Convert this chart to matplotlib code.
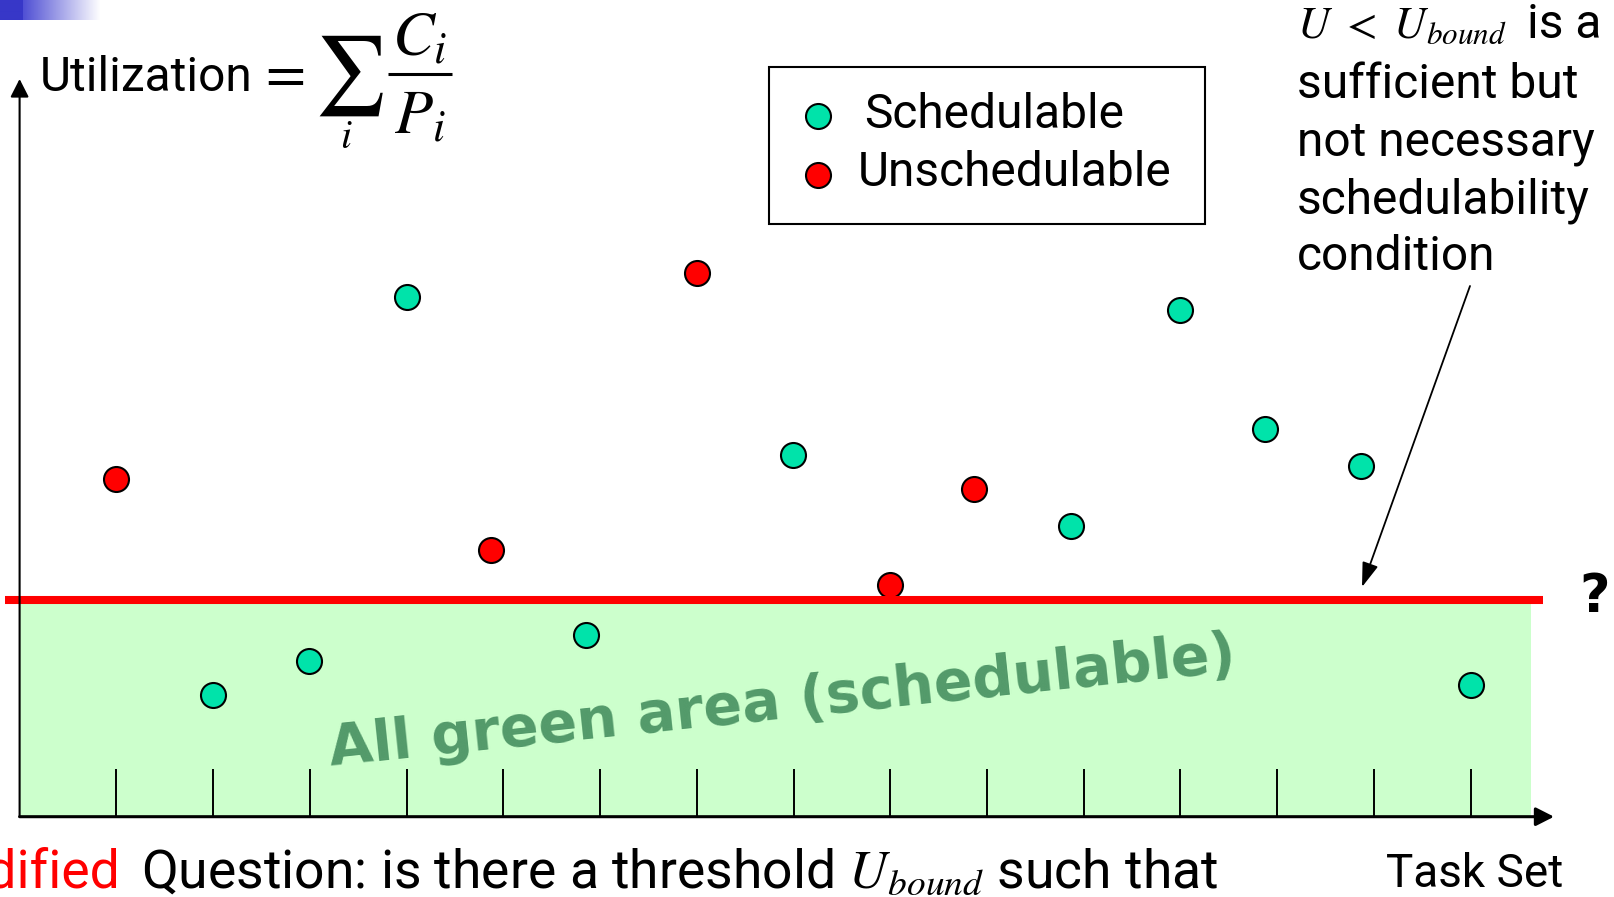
import numpy as np
import matplotlib
matplotlib.use("Agg")
import matplotlib.pyplot as plt
from matplotlib.patches import Rectangle

plt.rcParams['mathtext.fontset'] = 'stix'

# Task sets: x = task-set index, y = total utilization (in units of U_bound)
sched_x = [2.0, 2.99, 4.0, 5.86, 7.99, 10.87, 12.0, 12.87, 13.87, 15.0]
sched_u = [0.56, 0.72, 2.40, 0.84, 1.67, 1.34, 2.34, 1.79, 1.62, 0.61]
unsched_x = [1.0, 4.87, 7.0, 9.0, 9.87]
unsched_u = [1.56, 1.23, 2.51, 1.07, 1.51]
task_set_ticks = list(range(1, 16))
u_bound = 1.0
legend_labels = ["Schedulable", "Unschedulable"]

SANS = ['Roboto', 'DejaVu Sans']
FS = 34.5
GREEN_PT = '#00E3AA'
RED_PT = '#FF0000'
AREA = '#CCFFCC'
WORDART = '#539A6A'

W, H = 1614, 897
fig = plt.figure(figsize=(W / 100, H / 100), dpi=100)

# main plotting axes (origin at the axis corner)
x_org, y_org = 19.6, 816.7
x_tip, y_tip = 1554.0, 79.0
ax = fig.add_axes([x_org / W, 1 - y_org / H, (x_tip - x_org) / W, (y_org - y_tip) / H])
ax.set_xlim(0, 15.861)
ax.set_ylim(0, 3.404)
ax.set_facecolor('none')
for s in ax.spines.values():
    s.set_visible(False)
ax.set_xticks(task_set_ticks)
ax.set_xticklabels([])
ax.tick_params(axis='x', direction='in', length=34.5, width=1.4, color='black')
ax.set_yticks([])

# schedulable region below the bound
ax.fill_between([0, 15.62], 0, u_bound, color=AREA, lw=0, zorder=0.5)

ax.scatter(sched_x, sched_u, s=324, c=GREEN_PT, edgecolors='black',
           linewidths=1.5, zorder=3, clip_on=False, label=legend_labels[0])
ax.scatter(unsched_x, unsched_u, s=324, c=RED_PT, edgecolors='black',
           linewidths=1.5, zorder=3, clip_on=False, label=legend_labels[1])

# the utilization bound
ax.plot([-0.15, 15.744], [u_bound, u_bound], color='red', lw=5.8,
        solid_capstyle='butt', clip_on=False, zorder=4)

# axis arrows
ax.annotate('', xy=(15.861, 0), xytext=(0, 0),
            arrowprops=dict(arrowstyle='-|>,head_length=0.55,head_width=0.28',
                            mutation_scale=20, color='black', lw=2.2,
                            shrinkA=0, shrinkB=0),
            annotation_clip=False, zorder=5)
ax.annotate('', xy=(0, 3.404), xytext=(0, 0),
            arrowprops=dict(arrowstyle='-|>,head_length=0.55,head_width=0.28',
                            mutation_scale=20, color='black', lw=1.5,
                            shrinkA=0, shrinkB=0),
            annotation_clip=False, zorder=5)

ax.text(7.9, 0.455, "All green area (schedulable)", fontsize=41,
        fontweight='bold', family='DejaVu Sans', color=WORDART,
        rotation=6, rotation_mode='anchor', ha='center', va='baseline', zorder=2)

# overlay in pixel coordinates for the slide text
ov = fig.add_axes([0, 0, 1, 1])
ov.set_facecolor('none')
ov.axis('off')
ov.set_zorder(5)

# title-bar gradient in the corner
grad = np.ones((1, 100, 3))
base = np.array([55, 55, 200]) / 255
start = np.array([80, 80, 212]) / 255
for i in range(100):
    if i < 23:
        grad[0, i] = base
    else:
        t = (i - 23) / 77
        grad[0, i] = start * (1 - t) + np.ones(3) * t
ov.imshow(grad, extent=[0, 100, 20, 0], aspect='auto', interpolation='bilinear')
ov.set_xlim(0, W)
ov.set_ylim(H, 0)

# Utilization = sum_i C_i / P_i
ov.text(40, 91, "Utilization", fontsize=FS, family=SANS, va='baseline')
ov.text(257, 90, r"$=$", fontsize=42, va='baseline')
ov.text(349, 76, r"$\sum$", fontsize=57, ha='center', va='center')
ov.text(346, 148, r"$i$", fontsize=29, ha='center', va='baseline')
ov.text(392, 55, r"$C_i$", fontsize=45, va='baseline')
ov.plot([388, 452], [74.5, 74.5], color='black', lw=2.2, solid_capstyle='butt')
ov.text(394, 133, r"$P_i$", fontsize=45, va='baseline')

# legend box
ov.add_patch(Rectangle((768.5, 67.5), 436, 156.5, facecolor='white',
                       edgecolor='black', lw=1.5, zorder=1))
ov.scatter([817.5], [116], s=324, c=GREEN_PT, edgecolors='black', linewidths=1.5, zorder=2)
ov.scatter([817.5], [175.5], s=324, c=RED_PT, edgecolors='black', linewidths=1.5, zorder=2)
ov.text(864, 128, legend_labels[0], fontsize=FS, family=SANS, va='baseline', zorder=3)
ov.text(858, 185.5, legend_labels[1], fontsize=FS, family=SANS, va='baseline', zorder=3)

# note on the right
ov.text(1297, 38, r"$U\ <\ U_{bound}$", fontsize=32, va='baseline')
ov.text(1527, 38, "is a", fontsize=FS, family=SANS, va='baseline')
for txt, yb in [("sufficient but", 98), ("not necessary", 155),
                ("schedulability", 213), ("condition", 270)]:
    ov.text(1297, yb, txt, fontsize=FS, family=SANS, va='baseline')
ov.annotate('', xy=(1362, 587), xytext=(1470, 286),
            arrowprops=dict(arrowstyle='-|>,head_length=0.75,head_width=0.25',
                            mutation_scale=20, color='black', lw=1.3,
                            shrinkA=0, shrinkB=0))
ov.text(1595, 612, "?", fontsize=38, fontweight='bold', family='DejaVu Sans',
        ha='center', va='baseline')

# bottom line
ov.text(121, 888, "Modified", fontsize=38.5, family=SANS, color='red',
        ha='right', va='baseline')
ov.text(141, 888, r"Question: is there a threshold $U_{bound}$ such that",
        fontsize=38.5, family=SANS, va='baseline')
ov.text(1386, 887, "Task Set", fontsize=33, family=SANS, va='baseline')

fig.savefig("out.png", dpi=100)
